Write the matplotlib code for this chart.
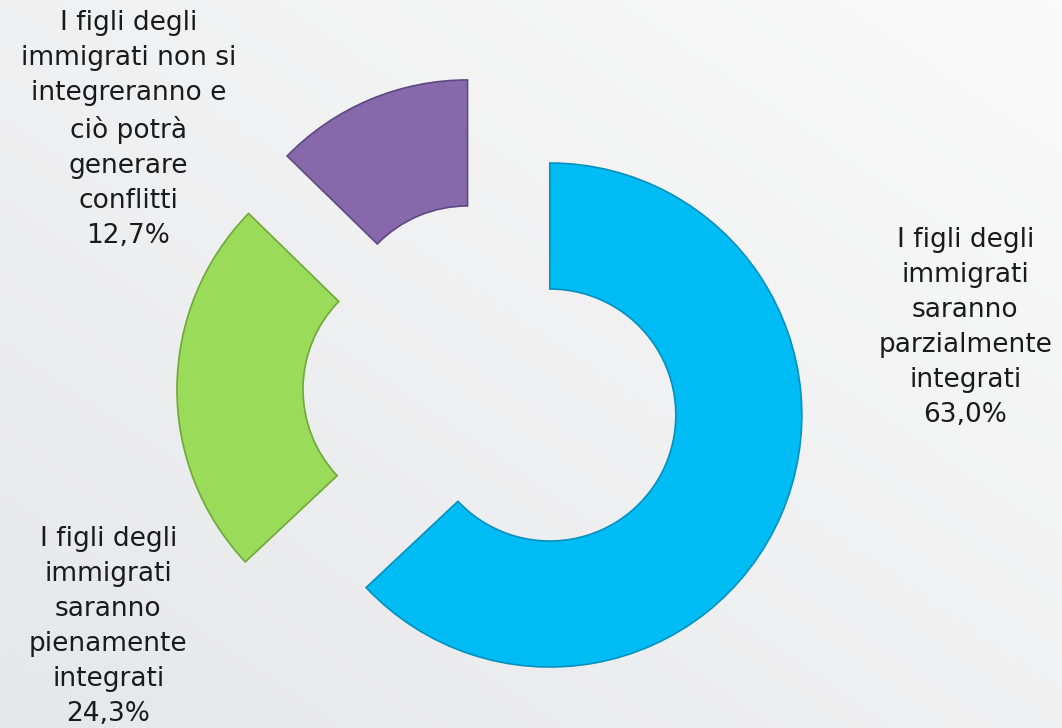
import numpy as np
import matplotlib
matplotlib.use('Agg')
import matplotlib.pyplot as plt


#------- Data

labels = ['I figli degli\nimmigrati\nsaranno\nparzialmente\nintegrati',
          'I figli degli\nimmigrati\nsaranno\npienamente\nintegrati',
          'I figli degli\nimmigrati non si\nintegreranno e\nciò potrà\ngenerare\nconflitti']
values = [63.0, 24.3, 12.7]
colors = ['#00BCF5', '#9BDB5A', '#8769AB']
edges = ['#0590BE', '#6FA83A', '#5E4882']

# where each label sits (figure fraction)
label_pos = [(0.909, 0.550), (0.102, 0.139), (0.121, 0.822)]


#------- Figure and gradient background

fig = plt.figure(figsize=(10.62, 7.28), dpi=100)
bg = fig.add_axes([0, 0, 1, 1])
yy, xx = np.mgrid[0:1:200j, 0:1:200j]
grad = (xx + (1 - yy)) / 2.0
bg.imshow(grad, cmap=matplotlib.colors.LinearSegmentedColormap.from_list(
    'bg', ['#E6E7E9', '#FAFAFA']), extent=[0, 1, 0, 1], aspect='auto', origin='upper')
bg.axis('off')

ax = fig.add_axes([0, 0, 1, 1])
ax.set_facecolor('none')


#------- Donut with every slice pulled out

wedges, _ = ax.pie(values, startangle=90, counterclock=False, colors=colors,
                   explode=[0.25, 0.25, 0.25], radius=1.0,
                   wedgeprops=dict(width=0.5, linewidth=1.2))
for w, ec in zip(wedges, edges):
    w.set_edgecolor(ec)

ax.set_aspect('equal')
ax.set_xlim(-492 / 252, (1062 - 492) / 252)
ax.set_ylim(-338 / 252, (728 - 338) / 252)
ax.axis('off')


#------- Labels

for lab, val, (x, y) in zip(labels, values, label_pos):
    txt = lab + '\n' + ('%.1f%%' % val).replace('.', ',')
    fig.text(x, y, txt, ha='center', va='center', multialignment='center',
             fontsize=19, color='#1A1A1A', linespacing=1.45,
             family='DejaVu Sans')

plt.savefig('out.png', dpi=100)
